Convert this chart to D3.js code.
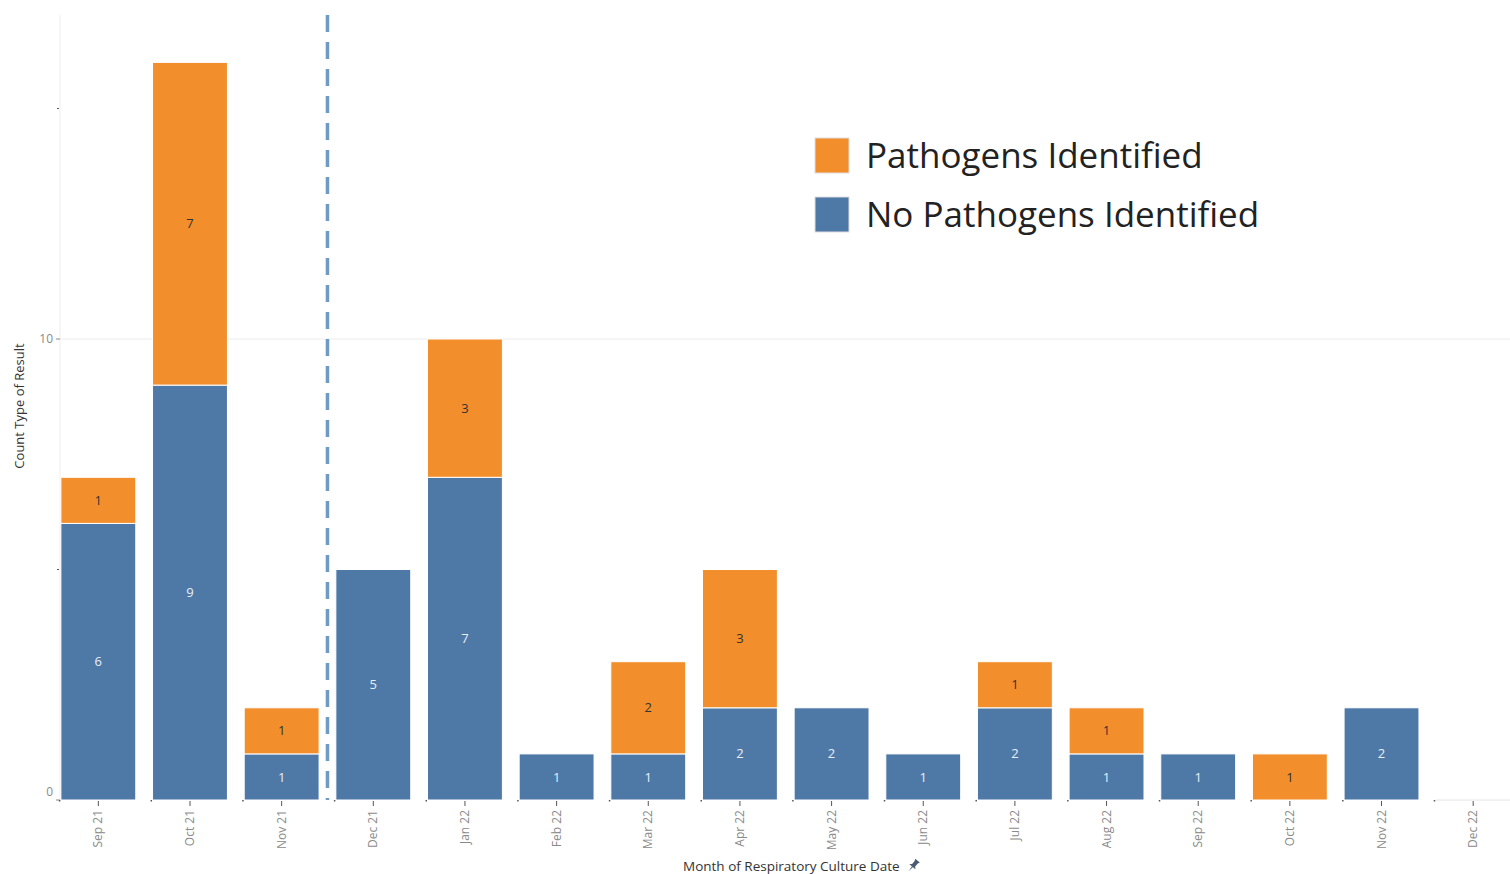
<!DOCTYPE html>
<html>
<head>
<meta charset="utf-8">
<script src="https://cdn.jsdelivr.net/npm/d3@7"></script>
<style>
  html, body { margin: 0; padding: 0; background: #fff; }
  svg { display: block; font-family: "Open Sans", "Noto Sans", sans-serif; }
</style>
</head>
<body>
<svg id="chart" width="1510" height="874"></svg>
<script>
// Monthly respiratory culture results
const months = ["Sep 21","Oct 21","Nov 21","Dec 21","Jan 22","Feb 22","Mar 22","Apr 22",
                "May 22","Jun 22","Jul 22","Aug 22","Sep 22","Oct 22","Nov 22","Dec 22"];
const noPathogens = [6, 9, 1, 5, 7, 1, 1, 2, 2, 1, 2, 1, 1, 0, 2, 0];
const pathogens   = [1, 7, 1, 0, 3, 0, 2, 3, 0, 0, 1, 1, 0, 1, 0, 0];
const seriesNames = ["Pathogens Identified", "No Pathogens Identified"];
const yTicks = [0, 10];
const yMinorTicks = [5, 15];
const markerMonth = "Dec 21";   // dashed marker drawn before this month

const colors = { "No Pathogens Identified": "#4e79a7", "Pathogens Identified": "#f28e2b" };

const svg = d3.select("#chart");
const plot = { left: 60, right: 1510, top: 15, bottom: 800 };

const x = d3.scaleBand()
  .domain(months)
  .range([52.5, 1519])
  .paddingInner(0.183)
  .paddingOuter(0.0915);

const y = d3.scaleLinear()
  .domain([0, 10])
  .range([plot.bottom, 339]);

// gridline at 10
svg.append("line")
  .attr("x1", plot.left).attr("x2", plot.right)
  .attr("y1", y(10)).attr("y2", y(10))
  .attr("stroke", "#ececec").attr("stroke-width", 1);

// y axis line
svg.append("line")
  .attr("x1", plot.left).attr("x2", plot.left)
  .attr("y1", plot.top).attr("y2", plot.bottom)
  .attr("stroke", "#eeeeee").attr("stroke-width", 1);

// y ticks and labels
svg.selectAll(".ytick").data(yTicks).join("line")
  .attr("x1", plot.left - 4).attr("x2", plot.left)
  .attr("y1", d => y(d)).attr("y2", d => y(d))
  .attr("stroke", "#888").attr("stroke-width", 1);
svg.selectAll(".yminor").data(yMinorTicks).join("line")
  .attr("x1", plot.left - 3).attr("x2", plot.left - 1)
  .attr("y1", d => y(d)).attr("y2", d => y(d))
  .attr("stroke", "#555").attr("stroke-width", 1.2);
svg.selectAll(".ylab").data(yTicks).join("text")
  .attr("x", plot.left - 7)
  .attr("y", d => y(d) - (d === 0 ? 8 : 0))
  .attr("dy", "0.35em")
  .attr("text-anchor", "end")
  .attr("font-size", 12)
  .attr("fill", "#8a8a8a")
  .text(d => d);

svg.append("text")
  .attr("transform", `translate(24,406) rotate(-90)`)
  .attr("text-anchor", "middle")
  .attr("font-size", 13)
  .attr("fill", "#333")
  .text("Count Type of Result");

// stacked bars
const rows = months.map((m, i) => ({ month: m, "No Pathogens Identified": noPathogens[i], "Pathogens Identified": pathogens[i] }));
const stack = d3.stack().keys(["No Pathogens Identified", "Pathogens Identified"]);
const layers = stack(rows);

layers.forEach(layer => {
  const key = layer.key;
  const g = svg.append("g");
  g.selectAll("rect").data(layer.filter(d => d[1] > d[0])).join("rect")
    .attr("x", d => x(d.data.month))
    .attr("width", x.bandwidth())
    .attr("y", d => y(d[1]))
    .attr("height", d => y(d[0]) - y(d[1]))
    .attr("fill", colors[key])
    .attr("stroke", "#fff")
    .attr("stroke-width", 1);
  g.selectAll("text").data(layer.filter(d => d[1] > d[0])).join("text")
    .attr("x", d => x(d.data.month) + x.bandwidth() / 2)
    .attr("y", d => (y(d[0]) + y(d[1])) / 2)
    .attr("dy", "0.35em")
    .attr("text-anchor", "middle")
    .attr("font-size", 13)
    .attr("fill", key === "Pathogens Identified" ? "#333" : "#e8eef6")
    .text(d => d[1] - d[0]);
});

// x axis ticks at band centres
svg.selectAll(".xtick").data(months).join("line")
  .attr("x1", d => x(d) + x.bandwidth() / 2).attr("x2", d => x(d) + x.bandwidth() / 2)
  .attr("y1", plot.bottom + 1).attr("y2", plot.bottom + 6)
  .attr("stroke", "#555").attr("stroke-width", 1);
// small marks at band boundaries
svg.selectAll(".xdot").data(months).join("rect")
  .attr("x", d => x(d) - 2).attr("y", plot.bottom)
  .attr("width", 1.5).attr("height", 1.5)
  .attr("fill", "#555");
svg.append("line")
  .attr("x1", x("Dec 22")).attr("x2", plot.right)
  .attr("y1", plot.bottom).attr("y2", plot.bottom)
  .attr("stroke", "#e4e4e4").attr("stroke-width", 1);

svg.selectAll(".xlab").data(months).join("text")
  .attr("transform", d => `translate(${x(d) + x.bandwidth() / 2 + 4},${plot.bottom + 10}) rotate(-90)`)
  .attr("text-anchor", "end")
  .attr("font-size", 12)
  .attr("fill", "#8a8a8a")
  .text(d => d);

// x axis title with a pin glyph
svg.append("text")
  .attr("x", 683).attr("y", 871)
  .attr("font-size", 13.5)
  .attr("fill", "#333")
  .text("Month of Respiratory Culture Date");
svg.append("path")
  .attr("transform", "translate(913,866) rotate(40)")
  .attr("d", "M-3,-7 L3,-7 L2,-5 L2,-1 L4,1 L-4,1 L-2,-1 L-2,-5 Z M-0.6,1 L0,7 L0.6,1 Z")
  .attr("fill", "#4a5a70");

// dashed marker between Nov 21 and Dec 21
const xi = months.indexOf(markerMonth);
const markerX = (x(months[xi - 1]) + x.bandwidth() + x(markerMonth)) / 2;
svg.append("line")
  .attr("x1", markerX).attr("x2", markerX)
  .attr("y1", plot.top).attr("y2", plot.bottom)
  .attr("stroke", "#6f9ac2")
  .attr("stroke-width", 3.5)
  .attr("stroke-dasharray", "17,10");

// legend
const legend = svg.append("g").attr("transform", "translate(815,138)");
seriesNames.forEach((name, i) => {
  legend.append("rect")
    .attr("x", 0).attr("y", i * 59)
    .attr("width", 34).attr("height", 35)
    .attr("fill", colors[name])
    .attr("stroke", "#ddd").attr("stroke-width", 1);
  legend.append("text")
    .attr("x", 51).attr("y", i * 59 + 18)
    .attr("dy", "0.35em")
    .attr("font-size", 35)
    .attr("fill", "#222")
    .text(name);
});
</script>
</body>
</html>
